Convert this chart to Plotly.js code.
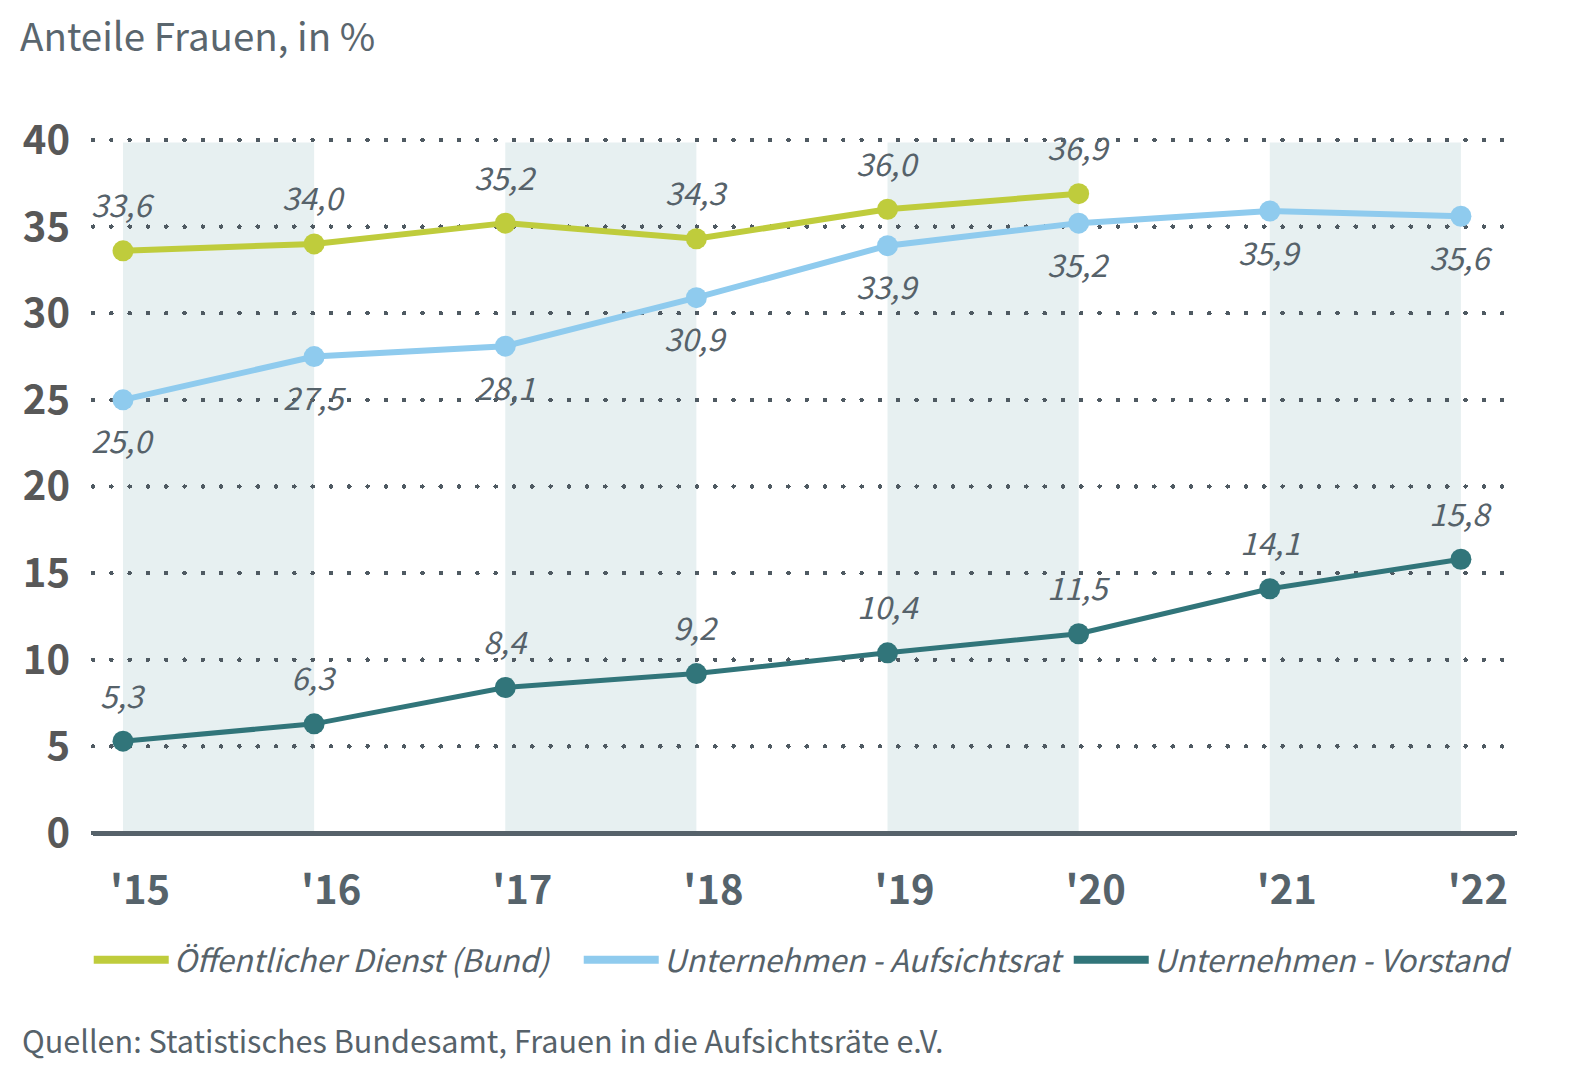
<!DOCTYPE html>
<html><head><meta charset="utf-8">
<script src="https://cdn.plot.ly/plotly-3.0.1.min.js"></script>
<style>
html,body{margin:0;padding:0;background:#fff;}
#chart{width:1586px;height:1090px;}
.gridlayer path{stroke-linecap:round;}
.zerolinelayer path{stroke-linecap:round;}
.legend .legendpoints path{display:none;}
.legend .legendlines path{stroke-width:8px !important;}
</style></head><body><div id="chart"></div>
<script>
const years = ["'15","'16","'17","'18","'19","'20","'21","'22"];
const oeffentlicherDienst = [33.6, 34.0, 35.2, 34.3, 36.0, 36.9, null, null];
const aufsichtsrat = [25.0, 27.5, 28.1, 30.9, 33.9, 35.2, 35.9, 35.6];
const vorstand = [5.3, 6.3, 8.4, 9.2, 10.4, 11.5, 14.1, 15.8];
const seriesNames = ["Öffentlicher Dienst (Bund)", "Unternehmen - Aufsichtsrat", "Unternehmen - Vorstand"];
const shadedBands = [["'15", "'16"], ["'17", "'18"], ["'19", "'20"], ["'21", "'22"]];
const yTicks = [0, 5, 10, 15, 20, 25, 30, 35, 40];
const titleText = "Anteile Frauen, in %";
const sourceText = "Quellen: Statistisches Bundesamt, Frauen in die Aufsichtsräte e.V.";

const FONT = '"Noto Sans CJK SC", "Open Sans", sans-serif';
const colors = ["#bfcc3c", "#8fcbee", "#31757a"];
const labelColor = "#56626a";
const xIdx = years.map((_, i) => i);
const fmt = v => v.toFixed(1).replace('.', ',');

const seriesValues = [oeffentlicherDienst, aufsichtsrat, vorstand];
const labelShift = [47, -40, 47];

const traces = seriesValues.map((vals, s) => ({
  type: 'scatter', mode: 'lines+markers', name: seriesNames[s],
  x: xIdx, y: vals,
  line: {color: colors[s], width: s === 2 ? 5 : 6},
  marker: {color: colors[s], size: 21},
  hoverinfo: 'skip'
}));

const annotations = [];
seriesValues.forEach((vals, s) => {
  vals.forEach((v, i) => {
    if (v === null) return;
    annotations.push({
      x: i, y: v, xref: 'x', yref: 'y', text: fmt(v), showarrow: false,
      yshift: labelShift[s],
      font: {family: FONT, size: 31, color: labelColor, style: 'italic'}
    });
  });
});
annotations.push({
  xref: 'paper', yref: 'paper', x: -73/1422, y: -(1040-833)/710,
  xanchor: 'left', yanchor: 'middle', showarrow: false, text: sourceText,
  font: {family: FONT, size: 30.6, color: labelColor}
});

const shapes = shadedBands.map(b => ({
  type: 'rect', layer: 'below', xref: 'x', yref: 'y',
  x0: years.indexOf(b[0]), x1: years.indexOf(b[1]), y0: 0, y1: 39.85,
  fillcolor: '#e7f0f1', line: {width: 0}
}));

const layout = {
  width: 1586, height: 1090,
  paper_bgcolor: '#ffffff', plot_bgcolor: 'rgba(0,0,0,0)',
  margin: {l: 93, r: 71, t: 123, b: 257, pad: 0},
  title: {text: titleText, x: 20/1586, xref: 'container', xanchor: 'left',
          y: 1 - 38/1090, yref: 'container', yanchor: 'middle',
          font: {family: FONT, size: 38.5, color: '#5a666e'}},
  xaxis: {
    range: [-0.157, 7.283], tickvals: xIdx, ticktext: years,
    showgrid: false, zeroline: false, showline: false, ticks: '',
    tickfont: {family: FONT, size: 40, color: '#56636b', weight: 'bold'},
    ticklabelstandoff: 30, ticklabelshift: 17, fixedrange: true
  },
  yaxis: {
    range: [0, 40.98], tickvals: yTicks, ticktext: yTicks.map(String),
    showgrid: true, gridcolor: '#4f5a62', gridwidth: 4.5, griddash: '0.1px,18.2px',
    zeroline: true, zerolinecolor: '#56626a', zerolinewidth: 5,
    showline: false, ticks: '',
    tickfont: {family: FONT, size: 40, color: '#585858', weight: 'bold'},
    ticklabelstandoff: 22, fixedrange: true
  },
  showlegend: true,
  legend: {
    orientation: 'h', x: -0.003, xanchor: 'left', y: -(960-833)/710, yanchor: 'middle',
    font: {family: FONT, size: 31, color: labelColor, style: 'italic'},
    itemwidth: 75, entrywidth: 400, entrywidthmode: 'pixels',
    itemclick: false, bgcolor: 'rgba(0,0,0,0)'
  },
  shapes: shapes,
  annotations: annotations
};

Plotly.newPlot('chart', traces, layout, {displayModeBar: false, staticPlot: true});
</script></body></html>
